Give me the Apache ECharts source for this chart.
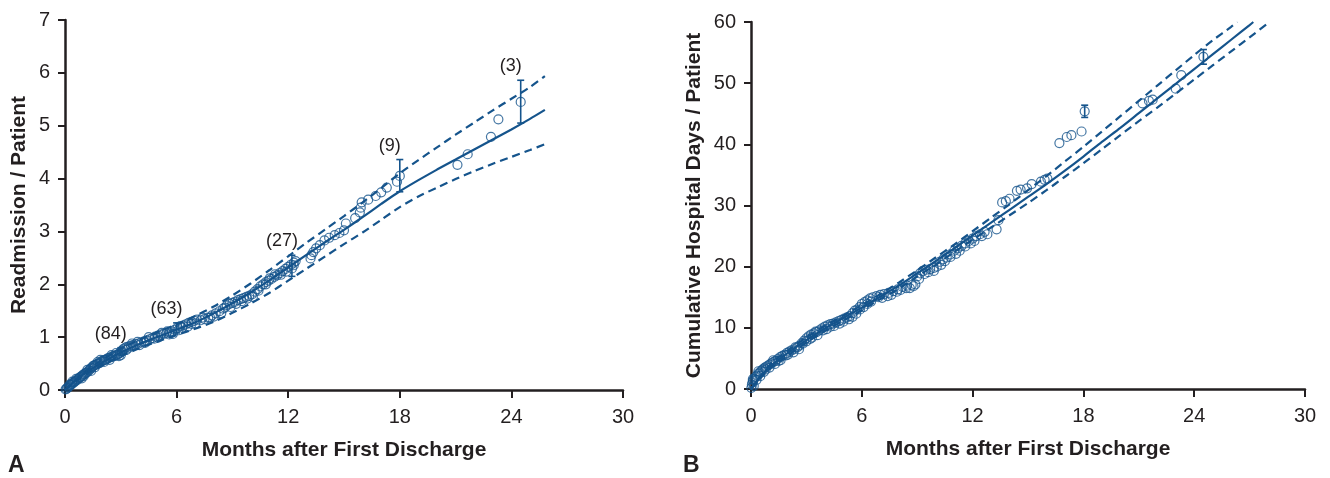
<!DOCTYPE html>
<html><head><meta charset="utf-8">
<script src="https://cdn.jsdelivr.net/npm/echarts@6/dist/echarts.min.js"></script>
<style>html,body{margin:0;padding:0;background:#fff}#c{width:1330px;height:478px}</style>
</head><body><div id="c"></div>
<script>
// ---------- DATA ----------
const xTicksMonths = [0, 6, 12, 18, 24, 30];
// Panel A: readmissions per patient
const aPoints = [
[0.03,0.01],[0.08,0.02],[0.12,0.04],[0.18,0.05],[0.22,0.07],[0.28,0.09],[0.33,0.1],[0.38,0.12],[0.45,0.14],[0.5,0.15],[0.55,0.17],[0.62,0.18],[0.68,0.2],[0.74,0.22],[0.8,0.24],[0.86,0.25],[0.92,0.27],[0.98,0.29],[1.05,0.3],[1.1,0.32],[1.16,0.33],[1.22,0.35],[1.3,0.37],[1.36,0.4],[1.42,0.42],[1.5,0.45],[1.56,0.46],[1.62,0.47],[1.7,0.49],[1.78,0.5],[1.85,0.51],[1.92,0.53],[2.0,0.55],[2.08,0.56],[2.15,0.57],[2.22,0.58],[2.3,0.6],[2.38,0.61],[2.46,0.62],[2.55,0.63],[2.62,0.64],[2.7,0.65],[2.78,0.66],[2.86,0.68],[2.95,0.7],[3.05,0.74],[3.12,0.77],[3.2,0.79],[3.3,0.81],[3.42,0.82],[3.55,0.84],[3.68,0.85],[3.8,0.87],[3.95,0.88],[4.1,0.9],[4.25,0.92],[4.4,0.94],[4.55,0.96],[4.7,0.98],[4.85,1.01],[5.0,1.03],[5.15,1.05],[5.3,1.06],[5.45,1.07],[5.6,1.09],[5.75,1.11],[5.9,1.14],[6.05,1.18],[6.2,1.21],[6.35,1.22],[6.5,1.24],[6.65,1.27],[6.8,1.29],[6.95,1.31],[7.1,1.33],[7.3,1.32],[7.5,1.34],[7.7,1.37],[7.9,1.41],[8.1,1.45],[8.3,1.49],[8.5,1.54],[8.7,1.6],[8.85,1.63],[9.0,1.65],[9.15,1.67],[9.3,1.7],[9.45,1.72],[9.6,1.74],[9.75,1.76],[9.9,1.78],[10.05,1.81],[10.2,1.86],[10.35,1.91],[10.5,1.96],[10.65,2.0],[10.8,2.04],[10.95,2.07],[11.1,2.1],[11.25,2.14],[11.4,2.17],[11.55,2.21],[11.7,2.25],[11.85,2.29],[12.0,2.33],[12.15,2.37],[12.3,2.41],[12.4,2.44],
[0.4,0.16],[0.9,0.22],[1.2,0.38],[1.6,0.43],[1.9,0.57],[2.4,0.57],[2.75,0.7],[3.0,0.66],[3.3,0.76],[3.6,0.88],[4.0,0.85],[4.5,1.0],[5.0,0.99],[5.5,1.11],[5.8,1.06],[6.1,1.13],[6.6,1.2],[7.0,1.26],[7.8,1.37],[8.4,1.45],[8.9,1.57],[9.5,1.68],[10.1,1.76],[10.8,2.0],[11.3,2.19],[11.9,2.24],[12.2,2.3],
[0.25,0.1],[0.6,0.21],[1.0,0.26],[1.4,0.36],[1.75,0.53],[2.1,0.53],[2.5,0.66],[2.9,0.64],[3.4,0.79],[3.9,0.91],[4.3,0.89],[4.8,0.97],[5.2,1.08],[5.6,1.05],[6.3,1.18],[6.8,1.25],[7.4,1.37],[8.0,1.39],[8.6,1.56],[9.2,1.63],[9.8,1.73],[10.4,1.88],[11.0,2.11],[11.6,2.18],[12.3,2.36],
[13.2,2.49],[13.25,2.55],[13.35,2.61],[13.5,2.68],[13.7,2.74],[13.95,2.83],[14.2,2.88],[14.5,2.93],[14.75,2.97],[15.0,3.02],[15.1,3.15],[15.6,3.25],[15.85,3.36],[15.9,3.45],[15.95,3.55],[16.3,3.6],[16.7,3.67],[17.0,3.74],[17.3,3.83],[17.85,3.94],[18.0,4.05],[21.1,4.26],[21.65,4.46],[22.9,4.79],[23.3,5.12],[24.5,5.45]
];
const aFit = [[0,0],[0.5,0.16],[1,0.3],[2,0.52],[3,0.71],[4,0.87],[5,1.01],[6,1.14],[7,1.28],[8,1.45],[9,1.64],[10,1.85],[11,2.08],[12,2.32],[13,2.56],[14,2.8],[15,3.03],[16,3.27],[17,3.52],[18,3.76],[19,3.97],[20,4.17],[21,4.36],[22,4.55],[23,4.74],[24,4.93],[25,5.13],[25.8,5.3]];
const aUpper = [[0,0],[1,0.33],[2,0.57],[3,0.78],[4,0.95],[5,1.1],[6,1.24],[7,1.4],[8,1.58],[9,1.79],[10,2.02],[11,2.27],[12,2.53],[13,2.79],[14,3.04],[15,3.29],[16,3.55],[17,3.82],[18,4.1],[19,4.35],[20,4.59],[21,4.83],[22,5.06],[23,5.29],[24,5.51],[25,5.73],[25.8,5.94]];
const aLower = [[0,0],[1,0.27],[2,0.47],[3,0.64],[4,0.79],[5,0.92],[6,1.04],[7,1.16],[8,1.29],[9,1.46],[10,1.64],[11,1.84],[12,2.07],[13,2.3],[14,2.53],[15,2.76],[16,2.98],[17,3.22],[18,3.46],[19,3.66],[20,3.83],[21,3.99],[22,4.14],[23,4.28],[24,4.41],[25,4.54],[25.8,4.65]];
const aErrBars = [[3.0,0.66,0.80],[6.0,1.08,1.27],[12.2,2.15,2.55],[18.0,3.75,4.36],[24.5,5.05,5.86]];
const aAtRisk = ['(84)','(63)','(27)','(9)','(3)'];
const aYTicks = [0,1,2,3,4,5,6,7];

// Panel B: cumulative hospital days per patient
const bPoints = [
[0.02,0.2],[0.05,0.7],[0.08,1.1],[0.12,1.4],[0.18,1.7],[0.25,2.0],[0.32,2.2],[0.4,2.5],[0.48,2.7],[0.56,3.0],[0.64,3.2],[0.72,3.4],[0.8,3.6],[0.9,3.8],[1.0,4.0],[1.1,4.2],[1.2,4.4],[1.32,4.6],[1.45,4.9],[1.58,5.2],[1.7,5.4],[1.82,5.6],[1.95,5.9],[2.08,6.1],[2.2,6.3],[2.35,6.5],[2.5,6.8],[2.62,7.1],[2.75,7.5],[2.88,7.9],[3.0,8.3],[3.12,8.6],[3.25,8.9],[3.4,9.1],[3.55,9.3],[3.7,9.6],[3.85,9.9],[4.0,10.2],[4.15,10.4],[4.3,10.6],[4.45,10.7],[4.6,10.9],[4.75,11.1],[4.9,11.3],[5.05,11.5],[5.2,11.7],[5.35,11.9],[5.5,12.4],[5.62,12.8],[5.75,13.0],[5.88,13.4],[6.0,13.9],[6.15,14.2],[6.3,14.5],[6.45,14.8],[6.6,15.0],[6.8,15.2],[7.0,15.4],[7.2,15.5],[7.45,15.7],[7.7,16.0],[7.95,16.3],[8.2,16.7],[8.45,16.9],[8.7,17.0],[8.9,17.1],[9.0,18.4],[9.15,18.9],[9.3,19.3],[9.5,19.5],[9.7,19.6],[9.9,19.8],[10.06,20.0],[10.22,20.8],[10.4,21.2],[10.6,21.5],[10.8,22.0],[11.0,22.6],[11.2,23.0],[11.4,23.4],[11.6,23.8],[11.8,24.2],[12.0,24.6],[12.2,25.0],[12.4,25.3],[12.65,25.7],
[0.15,0.5],[0.3,1.5],[0.5,2.1],[0.7,2.8],[1.0,3.5],[1.3,4.1],[1.6,4.7],[2.0,5.6],[2.3,6.0],[2.6,6.5],[3.0,7.8],[3.3,8.4],[3.6,8.8],[4.1,9.8],[4.5,10.3],[5.0,11.0],[5.5,11.8],[5.7,12.3],[6.1,13.4],[6.5,14.3],[7.1,14.9],[7.6,15.4],[8.1,16.2],[8.6,16.5],[9.1,18.0],[9.6,19.1],[10.3,20.3],[10.8,21.6],[11.3,22.6],[11.9,23.8],[12.5,25.0],
[0.1,1.6],[0.4,2.9],[0.8,3.2],[1.2,4.7],[1.5,4.6],[1.9,5.5],[2.4,6.8],[2.8,7.4],[3.2,8.2],[3.5,9.4],[3.9,9.6],[4.3,10.2],[4.8,10.7],[5.3,11.4],[5.9,13.0],[6.3,13.9],[6.9,15.0],[7.4,15.2],[7.9,15.9],[8.4,16.5],[8.8,16.8],[9.4,18.8],[9.9,19.3],[10.5,20.9],[11.1,22.1],[11.6,23.3],[12.1,24.2],[12.8,25.3],
[13.3,26.1],[13.4,27.6],[13.6,30.5],[13.8,30.7],[14.0,31.1],[14.4,32.4],[14.6,32.6],[14.95,32.8],[15.2,33.5],[15.7,33.9],[15.9,34.2],[16.05,34.4],[16.7,40.2],[17.1,41.2],[17.35,41.5],[17.9,42.1],[18.07,45.4],[21.2,46.7],[21.55,47.1],[21.75,47.3],[23.0,49.1],[23.3,51.3],[24.5,54.3]
];
const bFit = [[0,0],[0.5,2.0],[1,3.6],[2,5.9],[3,8.0],[4,9.9],[5,11.6],[6,13.3],[7,15.1],[8,16.9],[9,18.9],[10,20.9],[11,23.0],[12,25.1],[13,27.2],[14,29.3],[15,31.4],[16,33.5],[17,35.7],[18,38.0],[19,40.4],[20,42.7],[21,45.1],[22,47.5],[23,49.9],[24,52.3],[25,54.7],[26,57.1],[27,59.5],[27.2,60]];
const bUpper = [[0,0],[1,3.9],[2,6.3],[3,8.4],[4,10.3],[5,12.0],[6,13.7],[7,15.5],[8,17.4],[9,19.4],[10,21.5],[11,23.6],[12,25.8],[13,28.0],[14,30.2],[15,32.5],[16,34.8],[17,37.2],[18,39.6],[19,42.1],[20,44.6],[21,47.1],[22,49.6],[23,52.1],[24,54.6],[25,57.0],[26,59.2],[26.34,60]];
const bLower = [[0,0],[1,3.3],[2,5.5],[3,7.6],[4,9.5],[5,11.2],[6,12.9],[7,14.7],[8,16.4],[9,18.4],[10,20.3],[11,22.4],[12,24.4],[13,26.4],[14,28.4],[15,30.4],[16,32.5],[17,34.7],[18,36.9],[19,39.2],[20,41.5],[21,43.8],[22,46.0],[23,48.3],[24,50.6],[25,52.9],[26,55.2],[27,57.5],[28,59.8],[28.1,60]];
const bErrBars = [[18.07,44.4,46.4],[24.5,53.1,55.5]];
const bYTicks = [0,10,20,30,40,50,60];

// ---------- STYLE ----------
const BLUE = '#15548c';
const INK = '#231f20';
const FONT = '"Liberation Sans", Arial, Helvetica, sans-serif';

function xAxisCfg(gi){
  return {gridIndex:gi, type:'value', min:xTicksMonths[0], max:xTicksMonths[xTicksMonths.length-1], interval:6,
    name:'Months after First Discharge', nameLocation:'middle', nameGap:50,
    nameTextStyle:{fontFamily:FONT, fontWeight:'bold', fontSize:21, color:INK},
    axisLine:{show:true, onZero:false, lineStyle:{color:INK, width:2.5}},
    axisTick:{show:true, length:8, lineStyle:{color:INK, width:2}},
    axisLabel:{fontFamily:FONT, fontSize:20, color:INK, margin:17},
    splitLine:{show:false}};
}
function yAxisCfg(gi, ticks, name, gap){
  return {gridIndex:gi, type:'value', min:ticks[0], max:ticks[ticks.length-1], interval:ticks[1]-ticks[0],
    name:name, nameLocation:'middle', nameGap:gap,
    nameTextStyle:{fontFamily:FONT, fontWeight:'bold', fontSize:21, color:INK},
    axisLine:{show:true, onZero:false, lineStyle:{color:INK, width:2.5}},
    axisTick:{show:true, length:7, lineStyle:{color:INK, width:2}},
    axisLabel:{fontFamily:FONT, fontSize:20, color:INK, margin:15},
    splitLine:{show:false}};
}
function lineSeries(gi, data, dashed){
  return {type:'line', xAxisIndex:gi, yAxisIndex:gi, data:data, showSymbol:false, smooth:0.25,
    lineStyle:{color:BLUE, width:2.2, type: dashed ? [8,5] : 'solid'}, z:3, silent:true};
}
function scatterSeries(gi, data){
  return {type:'scatter', xAxisIndex:gi, yAxisIndex:gi, data:data, symbol:'circle', symbolSize:9,
    itemStyle:{color:'rgba(255,255,255,0)', borderColor:BLUE, borderWidth:1.2}, z:4, silent:true};
}
function errSeries(gi, data, labels){
  return {type:'custom', xAxisIndex:gi, yAxisIndex:gi, data:data, z:5, silent:true,
    encode:{x:0, y:[1,2]},
    renderItem:function(params, api){
      const lo = api.coord([api.value(0), api.value(1)]);
      const hi = api.coord([api.value(0), api.value(2)]);
      const st = {stroke:BLUE, lineWidth:1.6};
      const w = 3.5;
      const ch = [
        {type:'line', shape:{x1:lo[0], y1:lo[1], x2:hi[0], y2:hi[1]}, style:st},
        {type:'line', shape:{x1:hi[0]-w, y1:hi[1], x2:hi[0]+w, y2:hi[1]}, style:st},
        {type:'line', shape:{x1:lo[0]-w, y1:lo[1], x2:lo[0]+w, y2:lo[1]}, style:st}
      ];
      if (labels) {
        ch.push({type:'text', x:hi[0]-10, y:hi[1]-5,
          style:{text:labels[params.dataIndex], font:'18px ' + FONT, fill:INK, textAlign:'center', textVerticalAlign:'bottom'}});
      }
      return {type:'group', children:ch};
    }};
}

const chart = echarts.init(document.getElementById('c'), null, {renderer:'canvas'});
chart.setOption({
  animation:false,
  backgroundColor:'#fff',
  grid:[
    {left:65, top:20, width:558, height:370},
    {left:751, top:22, width:554, height:367}
  ],
  xAxis:[xAxisCfg(0), xAxisCfg(1)],
  yAxis:[yAxisCfg(0, aYTicks, 'Readmission / Patient', 35), yAxisCfg(1, bYTicks, 'Cumulative Hospital Days / Patient', 46)],
  graphic:[
    {type:'text', left:8, top:454, style:{text:'A', font:'bold 23px ' + FONT, fill:INK}},
    {type:'text', left:683, top:454, style:{text:'B', font:'bold 23px ' + FONT, fill:INK}}
  ],
  series:[
    lineSeries(0, aFit, false), lineSeries(0, aUpper, true), lineSeries(0, aLower, true),
    scatterSeries(0, aPoints), errSeries(0, aErrBars, aAtRisk),
    lineSeries(1, bFit, false), lineSeries(1, bUpper, true), lineSeries(1, bLower, true),
    scatterSeries(1, bPoints), errSeries(1, bErrBars, null)
  ]
});
</script></body></html>
